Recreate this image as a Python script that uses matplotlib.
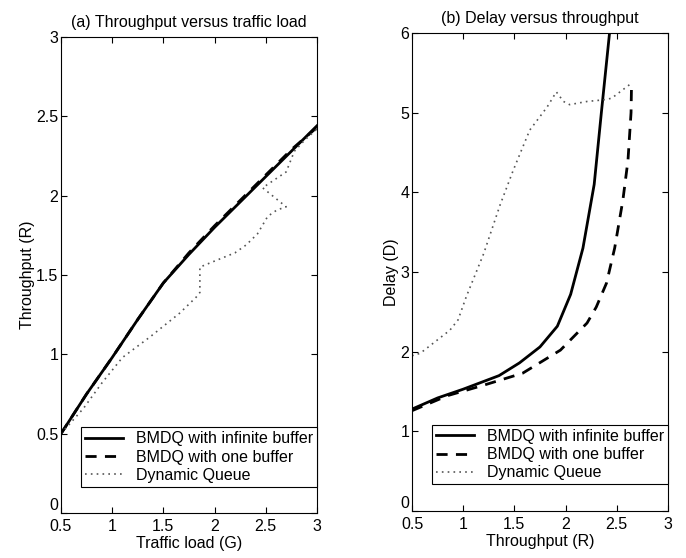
import matplotlib
matplotlib.use('Agg')
import matplotlib.pyplot as plt

plt.rcParams['font.family'] = ['Liberation Sans', 'DejaVu Sans']
plt.rcParams['font.size'] = 11.5

# (a) throughput versus traffic load
load_inf = [0.5, 0.75, 1.0, 1.25, 1.5, 1.75, 2.0, 2.25, 2.5, 2.75, 3.0]
thr_inf = [0.5, 0.75, 0.98, 1.22, 1.45, 1.63, 1.80, 1.96, 2.12, 2.28, 2.44]
load_one = [0.5, 0.75, 1.0, 1.25, 1.5, 1.75, 2.0, 2.25, 2.5, 2.75, 3.0]
thr_one = [0.5, 0.75, 0.98, 1.22, 1.45, 1.64, 1.81, 1.97, 2.13, 2.29, 2.43]
load_dq = [0.5, 0.72, 0.9, 1.1, 1.37, 1.66, 1.82, 1.857, 1.857, 1.97, 2.2, 2.31, 2.42, 2.52, 2.61, 2.70,
           2.47, 2.70, 2.78, 2.88, 3.0]
thr_dq = [0.5, 0.66, 0.82, 0.98, 1.11, 1.26, 1.36, 1.39, 1.55, 1.58, 1.64, 1.69, 1.76, 1.87, 1.91, 1.93,
          2.05, 2.15, 2.28, 2.35, 2.42]

# (b) delay versus throughput
thr_b_inf = [0.5, 0.75, 1.0, 1.35, 1.55, 1.75, 1.92, 2.05, 2.17, 2.28, 2.35, 2.43, 2.46]
delay_inf = [1.28, 1.42, 1.53, 1.70, 1.86, 2.06, 2.32, 2.72, 3.3, 4.1, 5.0, 6.0, 6.4]
thr_b_one = [0.5, 0.85, 1.2, 1.58, 1.95, 2.21, 2.30, 2.40, 2.48, 2.56, 2.61, 2.64, 2.645]
delay_one = [1.26, 1.45, 1.58, 1.73, 2.02, 2.36, 2.56, 2.86, 3.3, 3.9, 4.4, 5.0, 5.37]
thr_b_dq = [0.5, 0.58, 0.87, 0.95, 1.03, 1.20, 1.36, 1.49, 1.65, 1.82, 1.91, 1.98, 2.04, 2.21, 2.37, 2.45, 2.645]
delay_dq = [1.95, 1.98, 2.27, 2.40, 2.69, 3.23, 3.84, 4.28, 4.78, 5.07, 5.26, 5.14, 5.10, 5.14, 5.16, 5.18, 5.37]

labels = ['BMDQ with infinite buffer', 'BMDQ with one buffer', 'Dynamic Queue']

fig = plt.figure(figsize=(6.86, 5.58), dpi=100)
ax1 = fig.add_axes([0.0889, 0.0806, 0.373, 0.853])
ax2 = fig.add_axes([0.6006, 0.084, 0.373, 0.857])


def style(ax):
    ax.tick_params(direction='in', top=True, right=True, length=4, labelsize=11.5)
    ax.tick_params(axis='y', pad=2)
    ax.tick_params(axis='x', pad=4)
    for s in ax.spines.values():
        s.set_linewidth(0.8)
    ax.set_xticks([0.5, 1, 1.5, 2, 2.5, 3])
    ax.set_xticklabels(['0.5', '1', '1.5', '2', '2.5', '3'])
    # the zero label sits just above the corner, as in the original
    ax.get_yticklabels()[0].set_verticalalignment('bottom')


ax1.plot(load_inf, thr_inf, '-', color='black', lw=2.0, label=labels[0])
ax1.plot(load_one, thr_one, '--', color='black', lw=2.0, dashes=(4, 3), label=labels[1])
ax1.plot(load_dq, thr_dq, ':', color='#555555', lw=1.2, dashes=(1, 2.5), label=labels[2])
ax1.set_xlim(0.5, 3)
ax1.set_ylim(0, 3)
ax1.set_yticks([0, 0.5, 1, 1.5, 2, 2.5, 3])
ax1.set_yticklabels(['0', '0.5', '1', '1.5', '2', '2.5', '3'])
ax1.set_xlabel('Traffic load (G)', fontsize=11.5, labelpad=2)
ax1.set_ylabel('Throughput (R)', fontsize=11.5, labelpad=1)
ax1.set_title('(a) Throughput versus traffic load', fontsize=11.5, pad=7)
style(ax1)

ax2.plot(thr_b_inf, delay_inf, '-', color='black', lw=2.0, label=labels[0])
ax2.plot(thr_b_one, delay_one, '--', color='black', lw=2.0, dashes=(4, 3), label=labels[1])
ax2.plot(thr_b_dq, delay_dq, ':', color='#555555', lw=1.2, dashes=(1, 2.5), label=labels[2])
ax2.set_xlim(0.5, 3)
ax2.set_ylim(0, 6)
ax2.set_yticks([0, 1, 2, 3, 4, 5, 6])
ax2.set_yticklabels(['0', '1', '2', '3', '4', '5', '6'])
ax2.set_xlabel('Throughput (R)', fontsize=11.5, labelpad=2)
ax2.set_ylabel('Delay (D)', fontsize=11.5, labelpad=1)
ax2.set_title('(b) Delay versus throughput', fontsize=11.5, pad=7)
style(ax2)

for ax, y0 in ((ax1, 0.055), (ax2, 0.056)):
    leg = ax.legend(loc='lower right', bbox_to_anchor=(1.0, y0), fontsize=11.5,
                    frameon=True, fancybox=False, framealpha=1, edgecolor='black',
                    borderaxespad=0, handlelength=2.4, labelspacing=0.2,
                    borderpad=0.25, handletextpad=0.8)
    leg.get_frame().set_linewidth(0.8)

fig.savefig('out.png', dpi=100)
